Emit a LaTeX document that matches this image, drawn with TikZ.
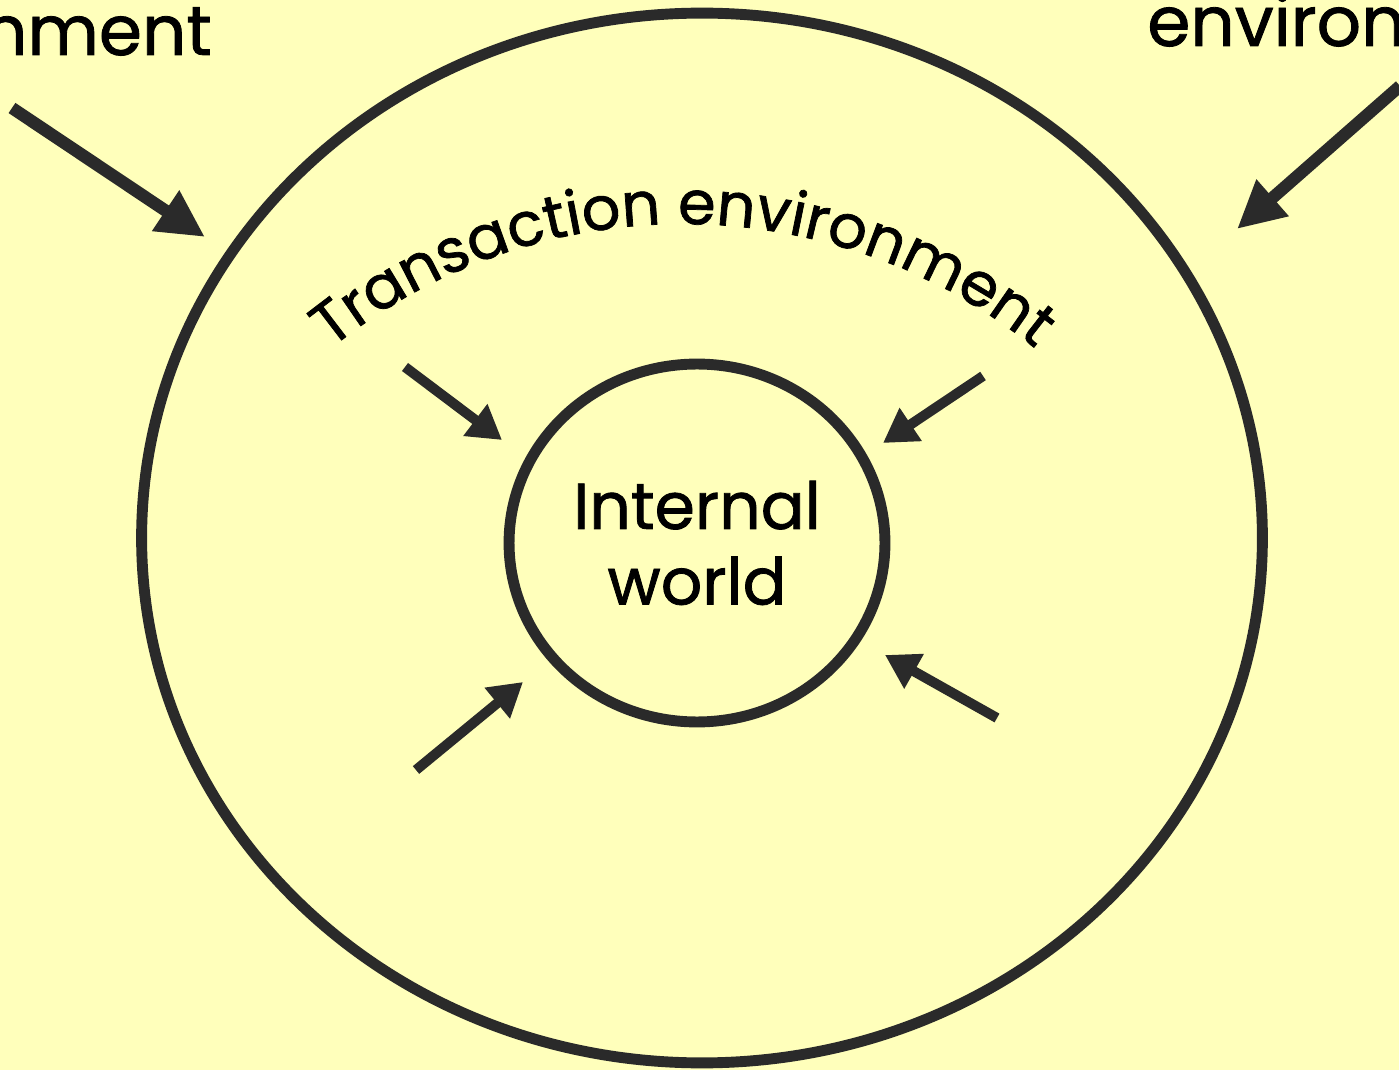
\documentclass[tikz,border=0pt]{standalone}
\usepackage{fontspec}
\newfontfamily\handfont[FakeBold=1.2]{Poppins}
\usetikzlibrary{arrows.meta,shapes.geometric,decorations.text}
\definecolor{paper}{HTML}{FFFFBB}
\definecolor{ink}{HTML}{2A2A2A}
\begin{document}
\begin{tikzpicture} [x = 0.02cm, y = -0.02cm,
	ring/.style = {ellipse, draw = ink, line width = 6.2pt, inner sep = 0pt},
	bigarrow/.style = {ink, line width = 7pt, -{Triangle[length = 27pt, width = 26pt]}},
	smallarrow/.style = {ink, line width = 5.7pt, -{Triangle[length = 19pt, width = 21.5pt]}},
	outside/.style = {inner sep = 0pt, font = \handfont\fontsize{39.5}{45}\selectfont},
	font = \handfont\fontsize{37}{43}\selectfont]
	\fill [paper] (0,0) rectangle (1399,1070);
	\useasboundingbox (0,0) rectangle (1399,1070);
	\clip (0,0) rectangle (1399,1070);
	% the two worlds
	\node [ring, minimum width = 22.42cm, minimum height = 21cm] (outer) at (702,538) {};
	\node [ring, minimum width = 7.52cm, minimum height = 7.16cm, align = center] (inner) at (697,543) {Internal\\world};
	% general environment, cut by the page
	\node [outside, anchor = base east] (envleft) at (212,55) {environment};
	\node [outside, anchor = base west] (envright) at (1147,46) {environment};
	\path [decorate, decoration = {text along path, text align = center,
		text = {|\handfont\fontsize{34.5}{40}\selectfont|Transaction environment}}]
		(683,784) ++(-132:560) arc [start angle = -132, end angle = -48, radius = 560];
	% arrows from outside
	\coordinate (tl tail) at (12,108);
	\coordinate (tl tip) at (205,237);
	\coordinate (tr tail) at (1400,86);
	\coordinate (tr tip) at (1237,229);
	\draw [bigarrow] (tl tail) -- (tl tip);
	\draw [bigarrow] (tr tail) -- (tr tip);
	% arrows into the internal world
	\coordinate (a1) at (405,367);   \coordinate (b1) at (502,440);
	\coordinate (a2) at (983,376);   \coordinate (b2) at (883,443);
	\coordinate (a3) at (416,770);   \coordinate (b3) at (523,682);
	\coordinate (a4) at (997,718);   \coordinate (b4) at (885,655);
	\foreach \i in {1,...,4}
		\draw [smallarrow] (a\i) -- (b\i);
\end{tikzpicture}
\end{document}
